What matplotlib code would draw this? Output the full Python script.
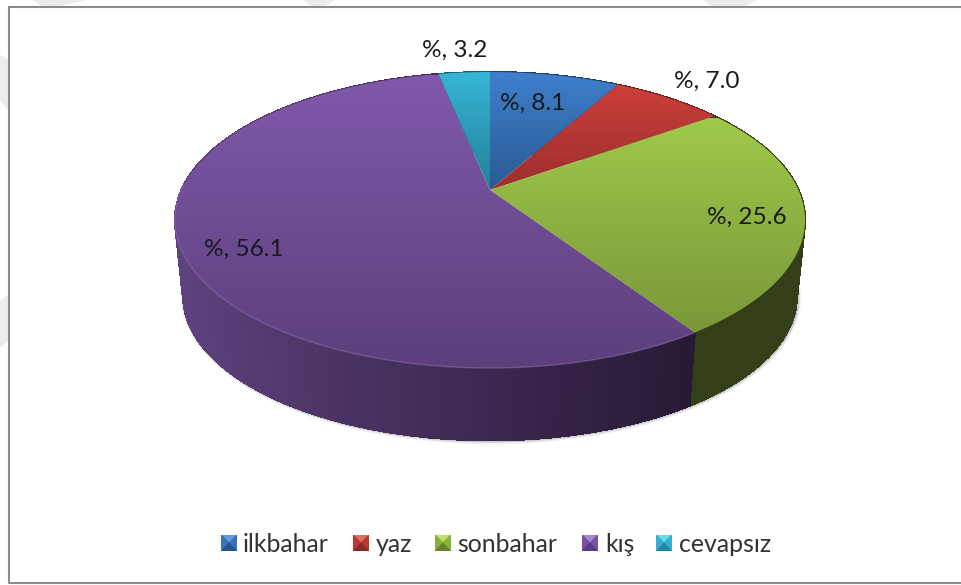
from matplotlib import pyplot as plt
from matplotlib.colors import LinearSegmentedColormap, to_rgb
from matplotlib.patches import Polygon, Rectangle
from matplotlib.collections import PolyCollection
import numpy as np

kategoriler = ['ilkbahar', 'yaz', 'sonbahar', 'kış', 'cevapsız']
degerler = [8.1, 7.0, 25.6, 56.1, 3.2]

# renkler: ust yuz (ust, alt), yan yuz (sol, sag)
ust_renk = [('#3f7fcd', '#2a5a92'), ('#cb3e3a', '#9c2f2d'), ('#9fc94b', '#7a9638'),
            ('#8059aa', '#5d3f7c'), ('#36b6d6', '#237f98')]
yan_renk = [('#1f3f66', '#1f3f66'), ('#6d1f1d', '#6d1f1d'), ('#36431a', '#333f18'),
            ('#5e427e', '#281a36'), ('#1a5f70', '#1a5f70')]
ikon_renk = [('#5c9be0', '#3a72b5', '#25548a'), ('#e56a66', '#b83a37', '#8a2826'),
             ('#bfe068', '#8cb03e', '#66832c'), ('#a588c8', '#7552a0', '#573a80'),
             ('#66dcf0', '#33b0cf', '#2488a0')]

# konumlar (piksel)
etiket_xy = [(533, 103), (707, 81), (747, 217), (244, 249), (455, 50)]
ikon_x = [221, 353, 435, 582, 656]
metin_x = [243, 376, 457, 605, 679]
gri_seritler = [[(32, 0), (87, 0), (60, 6), (42, 6)], [(303, 0), (335, 0), (325, 6), (312, 6)],
                [(703, 0), (757, 0), (745, 6), (712, 6)],
                [(0, 55), (9, 60), (9, 112), (0, 100)], [(0, 300), (9, 295), (9, 340), (0, 348)]]

AX, BY, K = 308.5, 141.9, 0.2027
CX, CY = 490, 190
OLCEK = 0.974
CY_ALT = 267


def nokta(t, alt=False):
    # t: tepeden saat yonunde aci (radyan), perspektifli daire
    X, Y = np.sin(t), np.cos(t)
    d = 1 + K * Y
    if alt:
        return CX + OLCEK * AX * X / d, CY_ALT - OLCEK * BY * Y / d
    return CX + AX * X / d, CY - BY * Y / d


def main():
    fig = plt.figure(figsize=(9.61, 5.85), dpi=100)
    ax = fig.add_axes([0, 0, 1, 1])
    ax.axis('off')

    for g in gri_seritler:
        ax.add_patch(Polygon(g, closed=True, fc='#ececec', ec='none', zorder=0))

    sinirlar = np.radians(np.concatenate([[0], np.cumsum(degerler)]) * 3.6)

    # golge
    ta = np.radians(np.linspace(85, 275, 200))
    xa, ya = nokta(ta, alt=True)
    for lw, al in [(7, 0.05), (5, 0.08), (3, 0.14)]:
        ax.plot(xa + 1, ya + 0.5, color='#303030', lw=lw * 0.72, alpha=al, zorder=1,
                solid_capstyle='round')

    # yan yuzeyler
    for i in range(len(degerler)):
        t = np.linspace(sinirlar[i], sinirlar[i + 1], 160)
        ux, uy = nokta(t)
        ax_, ay_ = nokta(t, alt=True)
        kare = []
        renk = []
        sol = np.array(to_rgb(yan_renk[i][0]))
        sag = np.array(to_rgb(yan_renk[i][1]))
        for j in range(len(t) - 1):
            kare.append([(ux[j], uy[j]), (ux[j + 1], uy[j + 1]), (ax_[j + 1], ay_[j + 1]), (ax_[j], ay_[j])])
            f = np.clip((ux[j] - 180) / 510, 0, 1)
            renk.append(sol + (sag - sol) * f ** 0.9)
        ax.add_collection(PolyCollection(kare, facecolors=renk, edgecolors=renk, linewidths=0.8,
                                         antialiaseds=False, zorder=2))
        # alt kenar yumusatma
        for j in range(0, len(t) - 2, 2):
            ax.plot(ax_[j:j + 3], ay_[j:j + 3], color=renk[j], lw=0.8, zorder=2.5)

    # ust yuz dilimleri
    araliklar = [(72, 190), (85, 190), (118, 335), (75, 368), (72, 190)]
    for i in range(len(degerler)):
        t = np.linspace(sinirlar[i], sinirlar[i + 1], 200)
        x, y = nokta(t)
        kose = [(CX, CY)] + list(zip(x, y))
        cm = LinearSegmentedColormap.from_list('d', ust_renk[i])
        ust, alt = araliklar[i]
        grad = np.linspace(0, 1, 256).reshape(-1, 1)
        im = ax.imshow(grad, cmap=cm, extent=(170, 810, alt, ust), aspect='auto', zorder=3)
        pol = Polygon(kose, closed=True, fc='none', ec='none', transform=ax.transData)
        ax.add_patch(pol)
        im.set_clip_path(pol)

    # ust yuz kenar isigi
    t = np.radians(np.linspace(146.5, 272, 150))
    x, y = nokta(t)
    ax.plot(x, y, color='#8d6cb4', lw=1.0, alpha=0.55, zorder=4)

    # etiketler
    for v, (ex, ey) in zip(degerler, etiket_xy):
        ax.text(ex, ey, f'%, {v:.1f}', family='Lato', fontsize=17.6, color='#1a1a1a',
                ha='center', va='center', zorder=5)

    # gosterge
    for i, ad in enumerate(kategoriler):
        x0, y0, s = ikon_x[i], 535, 16
        a, o, k = ikon_renk[i]
        orta = (x0 + s / 2, y0 + s * 0.45)
        ax.add_patch(Rectangle((x0, y0), s, s, fc=o, ec='none', zorder=5))
        ax.add_patch(Polygon([(x0 + 1, y0), (x0 + s - 1, y0), orta], fc=a, ec='none', zorder=6))
        ax.add_patch(Polygon([(x0, y0 + s), (x0 + s, y0 + s), orta], fc=k, ec='none', zorder=6))
        ax.text(metin_x[i], 544, ad, family='Lato', fontsize=17.9, color='#333333',
                ha='left', va='center', zorder=6)

    # cerceve
    ax.plot([961, 9, 9, 961], [6.5, 6.5, 583, 583], color='#8c8c8c', lw=1.5, zorder=7)

    ax.set_xlim(0, 961)
    ax.set_ylim(585, 0)
    ax.set_aspect('auto')
    fig.savefig('out.png', dpi=100, facecolor='white')


if __name__ == '__main__':
    main()
